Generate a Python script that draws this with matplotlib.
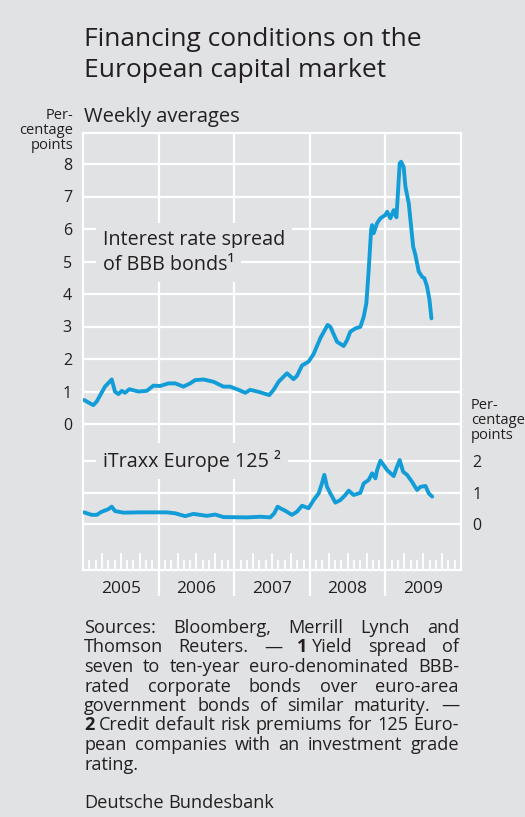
import matplotlib
matplotlib.use('Agg')
import matplotlib.pyplot as plt

plt.rcParams['font.family'] = ['Open Sans', 'DejaVu Sans']

BG = '#e1e2e4'
BLUE = '#129dd8'
INK = '#231f20'

# BBB spread, weekly averages (percentage points)
bbb_x = [2005.013, 2005.136, 2005.181, 2005.291, 2005.380, 2005.424, 2005.468, 2005.513,
         2005.556, 2005.613, 2005.732, 2005.844, 2005.931, 2006.020, 2006.130, 2006.219,
         2006.328, 2006.417, 2006.483, 2006.593, 2006.726, 2006.858, 2006.947, 2007.057,
         2007.146, 2007.212, 2007.322, 2007.464, 2007.521, 2007.587, 2007.698, 2007.785,
         2007.830, 2007.897, 2007.984, 2008.050, 2008.139, 2008.236, 2008.272, 2008.360,
         2008.448, 2008.493, 2008.536, 2008.603, 2008.669, 2008.713, 2008.748, 2008.779,
         2008.811, 2008.824, 2008.845, 2008.890, 2008.934, 2009.000, 2009.023, 2009.066,
         2009.110, 2009.146, 2009.163, 2009.189, 2009.208, 2009.242, 2009.265, 2009.309,
         2009.367, 2009.397, 2009.441, 2009.486, 2009.517, 2009.552, 2009.583, 2009.609]
bbb_y = [0.74, 0.58, 0.69, 1.15, 1.37, 0.99, 0.92, 1.02,
         0.96, 1.07, 1.00, 1.02, 1.18, 1.17, 1.25, 1.25,
         1.15, 1.25, 1.35, 1.37, 1.30, 1.15, 1.15, 1.05,
         0.96, 1.05, 0.99, 0.89, 1.05, 1.30, 1.56, 1.38,
         1.48, 1.80, 1.92, 2.15, 2.64, 3.05, 2.99, 2.53,
         2.40, 2.58, 2.84, 2.94, 2.99, 3.30, 3.71, 4.74,
         5.97, 6.12, 5.87, 6.18, 6.33, 6.43, 6.53, 6.33,
         6.58, 6.36, 7.00, 8.02, 8.07, 7.90, 7.30, 6.79,
         5.46, 5.20, 4.69, 4.53, 4.48, 4.22, 3.82, 3.25]

# iTraxx Europe 125
itraxx_x = [2005.013, 2005.115, 2005.181, 2005.248, 2005.335, 2005.380, 2005.424, 2005.534,
            2005.755, 2006.109, 2006.219, 2006.351, 2006.461, 2006.638, 2006.748, 2006.858,
            2007.168, 2007.344, 2007.477, 2007.530, 2007.574, 2007.609, 2007.675, 2007.764,
            2007.830, 2007.897, 2007.984, 2008.050, 2008.117, 2008.161, 2008.192, 2008.228,
            2008.272, 2008.338, 2008.404, 2008.470, 2008.514, 2008.580, 2008.669, 2008.713,
            2008.779, 2008.824, 2008.868, 2008.890, 2008.934, 2008.977, 2009.023, 2009.110,
            2009.146, 2009.189, 2009.234, 2009.287, 2009.352, 2009.419, 2009.464, 2009.530,
            2009.574, 2009.619]
itraxx_y = [0.37, 0.29, 0.29, 0.39, 0.47, 0.55, 0.41, 0.36,
            0.37, 0.37, 0.34, 0.25, 0.32, 0.26, 0.30, 0.22,
            0.21, 0.23, 0.21, 0.34, 0.55, 0.50, 0.42, 0.29,
            0.39, 0.58, 0.50, 0.76, 0.97, 1.29, 1.56, 1.18,
            0.97, 0.68, 0.76, 0.92, 1.06, 0.92, 0.99, 1.29,
            1.40, 1.61, 1.45, 1.71, 2.01, 1.87, 1.71, 1.52,
            1.77, 2.03, 1.66, 1.56, 1.34, 1.08, 1.18, 1.21,
            0.97, 0.87]

years = [2005, 2006, 2007, 2008, 2009]
upper_ticks = list(range(0, 9))
lower_ticks = [0, 1, 2]

footnote = [
    "Sources: Bloomberg, Merrill Lynch and",
    "Thomson Reuters. — *1*~Yield spread of",
    "seven to ten-year euro-denominated BBB-",
    "rated corporate bonds over euro-area",
    "government bonds of similar maturity. —",
    "*2*~Credit default risk premiums for 125 Euro-",
    "pean companies with an investment grade",
]
footnote_last = "rating."

W, H = 525, 817
fig = plt.figure(figsize=(W / 100, H / 100), dpi=100, facecolor=BG)

# plot frame in pixels: x 83..461, y 133..570
ax = fig.add_axes([83 / W, 1 - 570 / H, 378 / W, 437 / H])
ax.set_facecolor(BG)
ax.set_xlim(2005, 2010)
ax.set_ylim((424 - 570) / 32.5, (424 - 133) / 32.5)
ax2 = ax.twinx()
ax2.set_ylim((524 - 570) / 31.5, (524 - 133) / 31.5)

lw = 1.6
for v in upper_ticks:
    ax.axhline(v, color='white', lw=lw, zorder=1)
for v in lower_ticks:
    ax2.axhline(v, color='white', lw=lw, zorder=1)

xt = ax.get_xaxis_transform()
ax.vlines(years[1:], -0.06, 1, transform=xt, colors='white', lw=lw, clip_on=False, zorder=1)
for yr in years:
    for m in range(1, 12):
        h = 0.04 if m % 3 == 0 else 0.024
        ax.vlines(yr + m / 12, 0, h, transform=xt, colors='white', lw=1.3, zorder=1)

for s in ax.spines.values():
    s.set_color('white')
    s.set_linewidth(lw)
for s in ax2.spines.values():
    s.set_visible(False)

ax.set_yticks(upper_ticks)
ax.tick_params(axis='y', length=0, pad=8, labelsize=11.5, labelcolor=INK)
ax2.set_yticks(lower_ticks)
ax2.tick_params(axis='y', length=0, pad=8, labelsize=11.5, labelcolor=INK)
ax.set_xticks([y + 0.5 for y in years], labels=[str(y) for y in years])
ax.tick_params(axis='x', length=0, pad=8, labelsize=12.5, labelcolor=INK)

ax.plot(bbb_x, bbb_y, color=BLUE, lw=2.8, solid_joinstyle='round', solid_capstyle='round', zorder=3)
ax2.plot(itraxx_x, itraxx_y, color=BLUE, lw=2.8, solid_joinstyle='round', solid_capstyle='round', zorder=3)

box = dict(boxstyle='square,pad=0.35', fc=BG, ec='none')
ax.text(2005.265, 5.51, 'Interest rate spread', fontsize=14.2, color=INK, va='baseline', bbox=box, zorder=4)
ax.text(2005.265, 4.74, 'of BBB bonds¹', fontsize=14.2, color=INK, va='baseline', bbox=box, zorder=4)
ax2.text(2005.265, (524 - 467) / 31.5, 'iTraxx Europe 125 ²', fontsize=14.2, color=INK, va='baseline',
         bbox=box, zorder=4)

# titles and unit labels
fig.text(84 / W, 1 - 46 / H, 'Financing conditions on the', fontsize=19, color=INK, va='baseline')
fig.text(84 / W, 1 - 77 / H, 'European capital market', fontsize=19, color=INK, va='baseline')
fig.text(84 / W, 1 - 122 / H, 'Weekly averages', fontsize=14.5, color=INK, va='baseline')
fig.text(73 / W, 1 - 108 / H, 'Per-\ncentage\npoints', fontsize=10.5, color=INK, va='top', ha='right',
         linespacing=1.0)
fig.text(471 / W, 1 - 398 / H, 'Per-\ncentage\npoints', fontsize=10.5, color=INK, va='top', ha='left',
         linespacing=1.0)

# justified footnote
r = fig.canvas.get_renderer()
fs = 11


def text_width(s, weight):
    t = fig.text(0, 0, s, fontsize=fs, fontweight=weight)
    w = t.get_window_extent(r).width
    t.remove()
    return w


def parse(token):
    runs = []
    for part in token.split('~'):
        bold = part.startswith('*') and part.endswith('*')
        runs.append((part.strip('*'), 'bold' if bold else 'normal'))
    return runs


def natural(line):
    groups = [parse(tok) for tok in line.split(' ')]
    widths = [sum(text_width(s, w) for s, w in g) + space * (len(g) - 1) for g in groups]
    return groups, widths


# pick the size at which the unstretched line 6 fills the column
space = text_width('a a', 'normal') - text_width('aa', 'normal')
g6, w6 = natural(footnote[5])
fs = fs * 373 / (sum(w6) + space * (len(w6) - 1))
space = text_width('a a', 'normal') - text_width('aa', 'normal')


def draw_line(line, y, x0=84, x1=459, justify=True):
    groups, widths = natural(line)
    if justify and len(groups) > 1:
        gap = (x1 - x0 - sum(widths)) / (len(groups) - 1)
    else:
        gap = space
    x = x0
    for g, gw in zip(groups, widths):
        xx = x
        for s, w in g:
            fig.text(xx / W, 1 - y / H, s, fontsize=fs, fontweight=w, color=INK, va='baseline')
            xx += text_width(s, w) + space
        x += gw + gap


for i, line in enumerate(footnote):
    draw_line(line, 633 + i * 19.5)
draw_line(footnote_last, 633 + 7 * 19.5, justify=False)
draw_line('Deutsche Bundesbank', 808, justify=False)

fig.savefig('out.png', dpi=100, facecolor=BG)
